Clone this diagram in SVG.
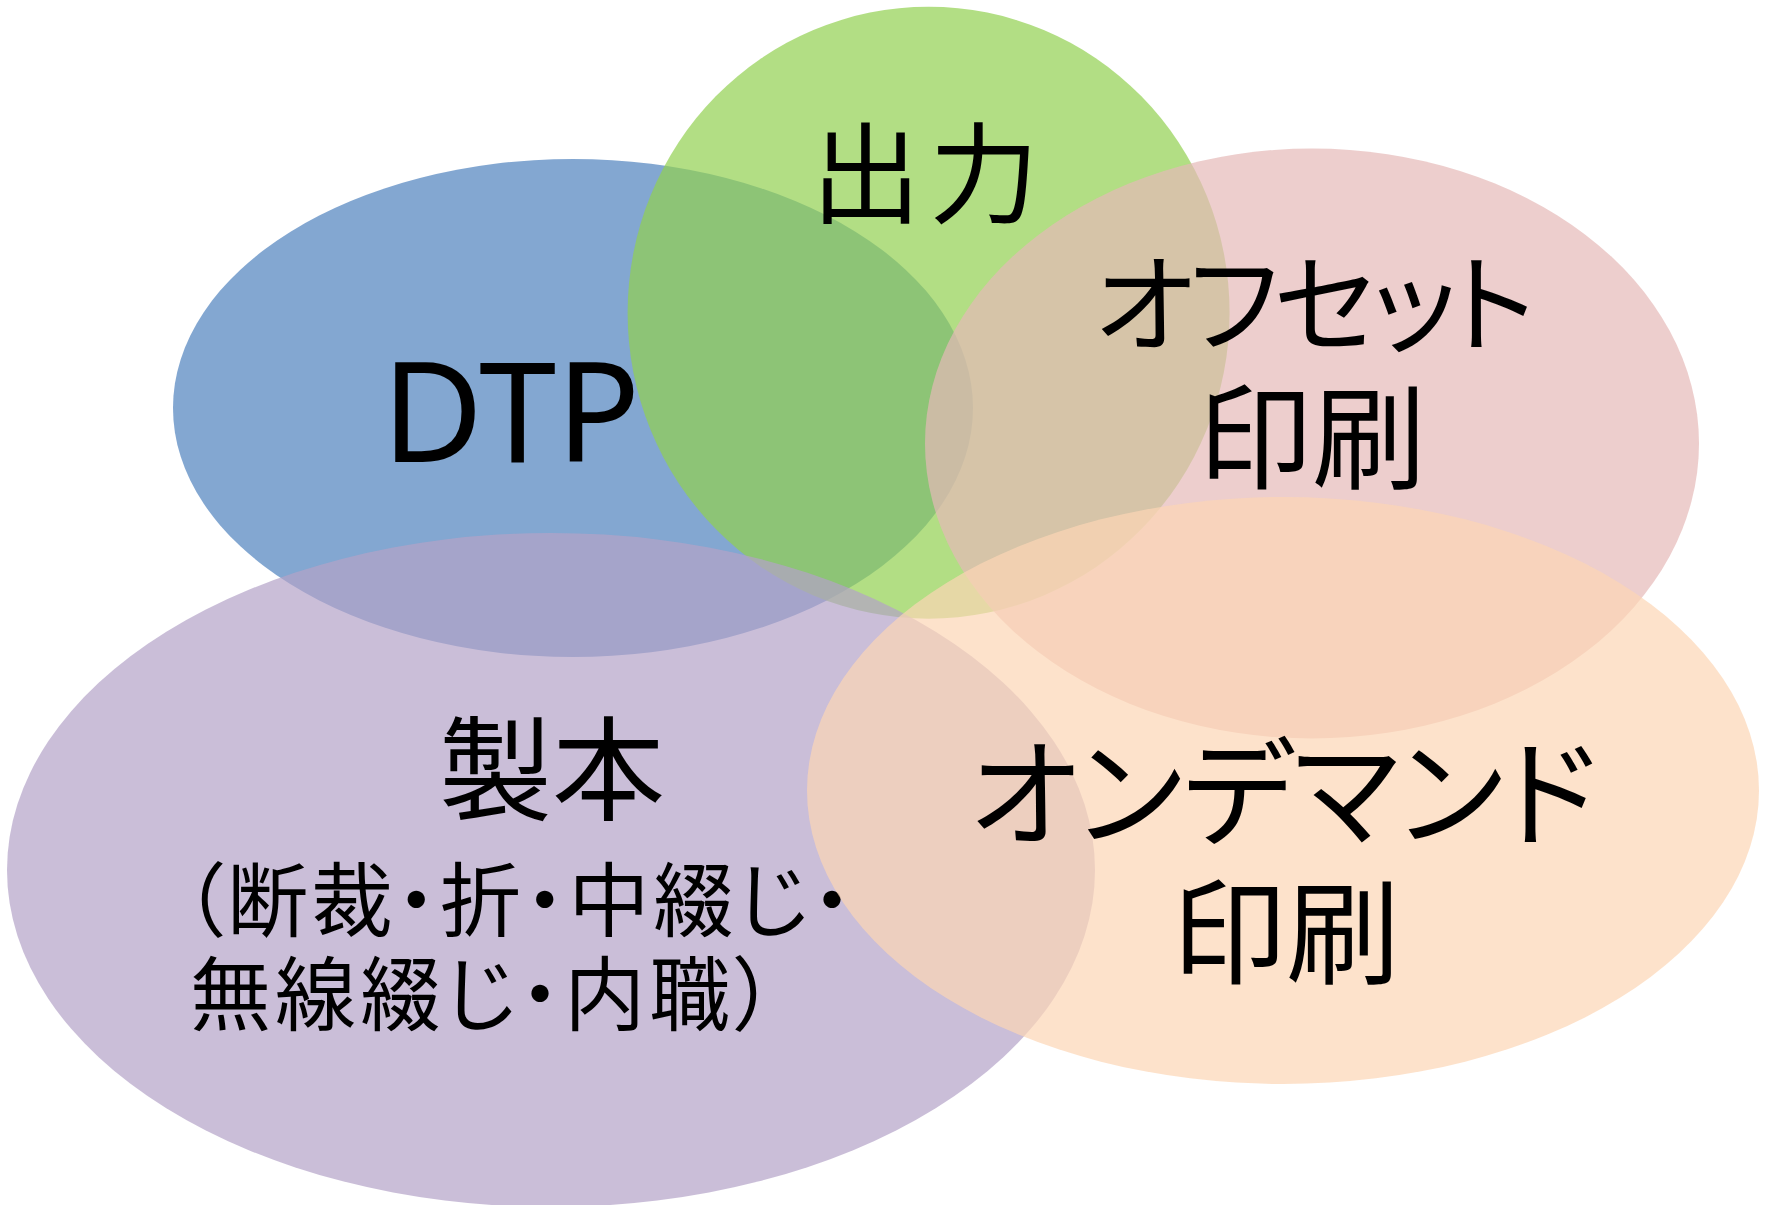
<svg xmlns="http://www.w3.org/2000/svg" width="1767" height="1205" viewBox="0 0 1767 1205">
<style>
  .bg { fill: #ffffff; }
  .t { font-family: "Noto Sans CJK JP", "Noto Sans", sans-serif; fill: #000000; font-feature-settings: "palt"; }
  .c { text-anchor: middle; }
  .lat { font-family: "Noto Sans", "Noto Sans CJK JP", sans-serif; fill: #000000; text-anchor: middle; }
</style>
<rect class="bg" x="0" y="0" width="1767" height="1205"/>
<g id="dtp">
  <ellipse cx="573" cy="408" rx="400" ry="249" fill="#4F81BD" fill-opacity="0.7"/>
  <text class="lat" x="511" y="462" font-size="139">DTP</text>
</g>
<g id="output">
  <ellipse cx="928.6" cy="312.7" rx="301" ry="306" fill="#92D050" fill-opacity="0.7"/>
  <text class="t c" x="929" y="215" font-size="110" letter-spacing="8">出力</text>
</g>
<g id="offset">
  <ellipse cx="1312" cy="443.5" rx="387" ry="295" fill="#E6B9B8" fill-opacity="0.7"/>
  <text class="t c" x="1312" y="344" font-size="108" letter-spacing="-5">オフセット</text>
  <text class="t c" x="1312" y="480" font-size="114">印刷</text>
</g>
<g id="binding">
  <ellipse cx="551" cy="870" rx="544" ry="337" fill="#B3A2C7" fill-opacity="0.7"/>
  <text class="t c" x="552" y="811" font-size="113">製本</text>
  <text class="t" x="183" y="930" font-size="81" letter-spacing="3.5">（断裁・折・中綴じ・</text>
  <text class="t" x="190" y="1024" font-size="81" letter-spacing="4">無線綴じ・内職）</text>
</g>
<g id="ondemand">
  <ellipse cx="1283" cy="790.5" rx="476" ry="293.5" fill="#FCD5B5" fill-opacity="0.7"/>
  <text class="t c" x="1283" y="837" font-size="118">オンデマンド</text>
  <text class="t c" x="1286" y="975" font-size="114">印刷</text>
</g>
<g id="connectors"></g>
</svg>
